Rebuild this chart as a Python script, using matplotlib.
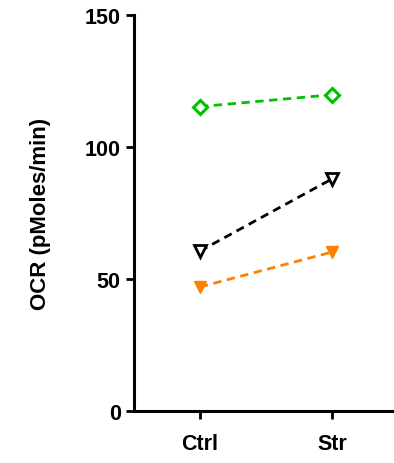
import matplotlib
matplotlib.use("Agg")
import matplotlib.pyplot as plt

groups = ["Ctrl", "Str"]
green_vals = [115.3, 119.8]
black_vals = [60.6, 87.9]
orange_vals = [47.0, 60.2]

plt.rcParams["font.family"] = ["Liberation Sans", "DejaVu Sans"]
plt.rcParams["font.weight"] = "bold"

fig = plt.figure(figsize=(3.94, 4.64), dpi=100)
ax = fig.add_axes([0.340, 0.112, 0.66, 0.8535])

x = list(range(len(groups)))
ax.plot(x, green_vals, "--", color="#00c000", lw=2, marker="D", ms=7,
        mfc="white", mec="#00c000", mew=2.2, dashes=(3, 2))
ax.plot(x, black_vals, "--", color="black", lw=2, marker="v", ms=9,
        mfc="white", mec="black", mew=2, dashes=(3, 2))
ax.plot(x, orange_vals, "--", color="#ff8000", lw=2, marker="v", ms=9,
        mfc="#ff8000", mec="#ff8000", dashes=(3, 2))

ax.set_ylim(0, 150)
ax.set_yticks([0, 50, 100, 150])
ax.set_xlim(-0.5, 1.47)
ax.set_xticks(x)
ax.set_xticklabels(groups)
ax.set_ylabel("OCR (pMoles/min)", fontsize=16, fontweight="bold", labelpad=24)

for s in ["top", "right"]:
    ax.spines[s].set_visible(False)
for s in ["left", "bottom"]:
    ax.spines[s].set_linewidth(2.2)
ax.tick_params(axis="both", width=2, length=6, labelsize=15.5)
ax.tick_params(axis="x", pad=10)
for lab in ax.get_xticklabels() + ax.get_yticklabels():
    lab.set_fontweight("bold")

fig.savefig("out.png", dpi=100)
